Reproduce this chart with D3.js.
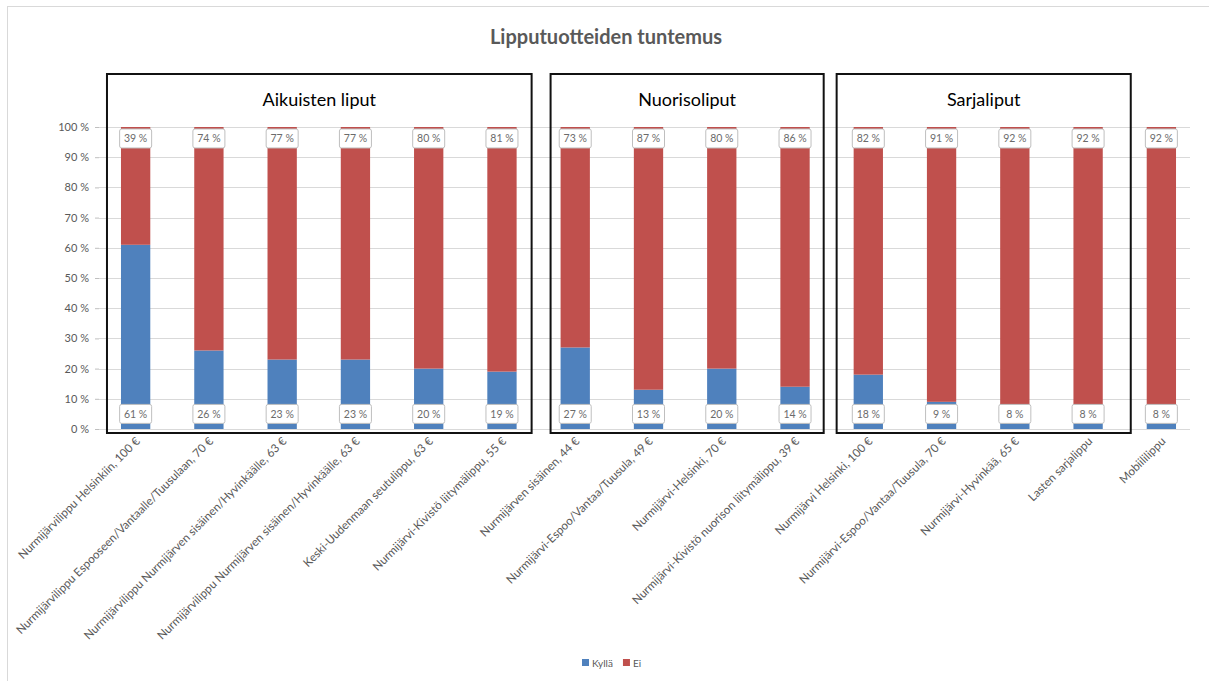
<!DOCTYPE html>
<html><head><meta charset="utf-8">
<script src="https://cdn.jsdelivr.net/npm/d3@7"></script>
<style>body{margin:0;background:#fff}svg{display:block}</style>
</head><body>
<svg id="c" width="1209" height="681"></svg>
<script>
const categories = [
  "Nurmijärvilippu Helsinkiin, 100 €",
  "Nurmijärvilippu Espooseen/Vantaalle/Tuusulaan, 70 €",
  "Nurmijärvilippu Nurmijärven sisäinen/Hyvinkäälle, 63 €",
  "Nurmijärvilippu Nurmijärven sisäinen/Hyvinkäälle, 63 €",
  "Keski-Uudenmaan seutulippu, 63 €",
  "Nurmijärvi-Kivistö liitymälippu, 55 €",
  "Nurmijärven sisäinen, 44 €",
  "Nurmijärvi-Espoo/Vantaa/Tuusula, 49 €",
  "Nurmijärvi-Helsinki, 70 €",
  "Nurmijärvi-Kivistö nuorison liitymälippu, 39 €",
  "Nurmijärvi Helsinki, 100 €",
  "Nurmijärvi-Espoo/Vantaa/Tuusula, 70 €",
  "Nurmijärvi-Hyvinkää, 65 €",
  "Lasten sarjalippu",
  "Mobiililippu"
];
const kylla = [61, 26, 23, 23, 20, 19, 27, 13, 20, 14, 18, 9, 8, 8, 8];
const ei    = [39, 74, 77, 77, 80, 81, 73, 87, 80, 86, 82, 91, 92, 92, 92];
const seriesNames = ["Kyllä", "Ei"];
const yTicks = [0, 10, 20, 30, 40, 50, 60, 70, 80, 90, 100];
const groupNames = ["Aikuisten liput", "Nuorisoliput", "Sarjaliput"];
const groupFrom = [0, 6, 10];
const groupTo = [5, 9, 13];
const title = "Lipputuotteiden tuntemus";

// styling / layout
const boxPadL = [14, 10, 17];
const boxPadR = [15, 14, 28];
const colors = {"Kyllä": "#4F81BD", "Ei": "#C0504D"};
const font = "Lato, 'Open Sans', sans-serif";
const svg = d3.select("#c");

svg.append("rect").attr("x", 7.5).attr("y", 6.5).attr("width", 1210).attr("height", 680)
  .attr("fill", "none").attr("stroke", "#d9d9d9");

const x = d3.scaleBand().domain(d3.range(categories.length)).range([99, 1198]).paddingInner(0.6).paddingOuter(0.3);
const y = d3.scaleLinear().domain([0, 100]).range([429, 127]);

svg.append("g").selectAll("line").data(yTicks).join("line")
  .attr("x1", 99).attr("x2", 1190)
  .attr("y1", d => Math.round(y(d)) + 0.5).attr("y2", d => Math.round(y(d)) + 0.5)
  .attr("stroke", "#d9d9d9").attr("stroke-width", 1);

const yAxis = d3.axisLeft(y).tickValues(yTicks).tickFormat(d => d + " %").tickSize(4).tickPadding(6);
const ga = svg.append("g").attr("transform", "translate(99,0)").call(yAxis);
ga.select(".domain").remove();
ga.selectAll("line").attr("stroke", "#bfbfbf");
ga.selectAll("text").attr("font-family", font).attr("font-size", 11).attr("fill", "#595959");

const stack = categories.map((c, i) => ({i, k: kylla[i], e: ei[i]}));
const bw = x.bandwidth();
svg.append("g").selectAll("rect").data(stack).join("rect")
  .attr("x", d => x(d.i)).attr("width", bw)
  .attr("y", d => y(d.k)).attr("height", d => y(0) - y(d.k))
  .attr("fill", colors["Kyllä"]);
svg.append("g").selectAll("rect").data(stack).join("rect")
  .attr("x", d => x(d.i)).attr("width", bw)
  .attr("y", d => y(d.k + d.e)).attr("height", d => y(d.k) - y(d.k + d.e))
  .attr("fill", colors["Ei"]);

function labels(vals, yv) {
  const g = svg.append("g").selectAll("g").data(vals).join("g")
    .attr("transform", (d, i) => `translate(${x(i) + bw / 2},${y(yv)})`);
  g.append("rect").attr("x", -16).attr("y", -9.5).attr("width", 32).attr("height", 19)
    .attr("rx", 2).attr("fill", "#fff").attr("stroke", "#bfbfbf").attr("stroke-width", 1);
  g.append("text").attr("text-anchor", "middle").attr("dy", "0.35em")
    .attr("font-family", font).attr("font-size", 10.5).attr("fill", "#6b6b6b")
    .text(d => d + " %");
}
labels(ei, 96.2);
labels(kylla, 5.0);

svg.append("g").selectAll("text").data(categories).join("text")
  .attr("transform", (d, i) => `translate(${x(i) + bw / 2 + 5},${y(0) + 13}) rotate(-45)`)
  .attr("text-anchor", "end").attr("font-family", font).attr("font-size", 11.6).attr("fill", "#595959")
  .text(d => d);

groupNames.forEach((name, k) => {
  const x0 = x(groupFrom[k]) - boxPadL[k], x1 = x(groupTo[k]) + bw + boxPadR[k];
  svg.append("rect").attr("x", x0).attr("y", 74).attr("width", x1 - x0).attr("height", 359)
    .attr("fill", "none").attr("stroke", "#111").attr("stroke-width", 2);
  svg.append("text").attr("x", (x0 + x1) / 2).attr("y", 106).attr("text-anchor", "middle")
    .attr("font-family", font).attr("font-size", 18).attr("fill", "#000").text(name);
});

svg.append("text").attr("x", 606).attr("y", 44).attr("text-anchor", "middle")
  .attr("font-family", font).attr("font-size", 20).attr("font-weight", "bold").attr("fill", "#595959")
  .text(title);

const lg = svg.append("g").attr("transform", "translate(582,663)");
let lx = 0;
seriesNames.forEach(s => {
  lg.append("rect").attr("x", lx).attr("y", -4).attr("width", 7).attr("height", 7).attr("fill", colors[s]);
  const t = lg.append("text").attr("x", lx + 10).attr("y", 0).attr("dy", "0.35em")
    .attr("font-family", font).attr("font-size", 10).attr("fill", "#595959").text(s);
  lx += 10 + t.node().getComputedTextLength() + 10;
});
</script>
</body></html>
